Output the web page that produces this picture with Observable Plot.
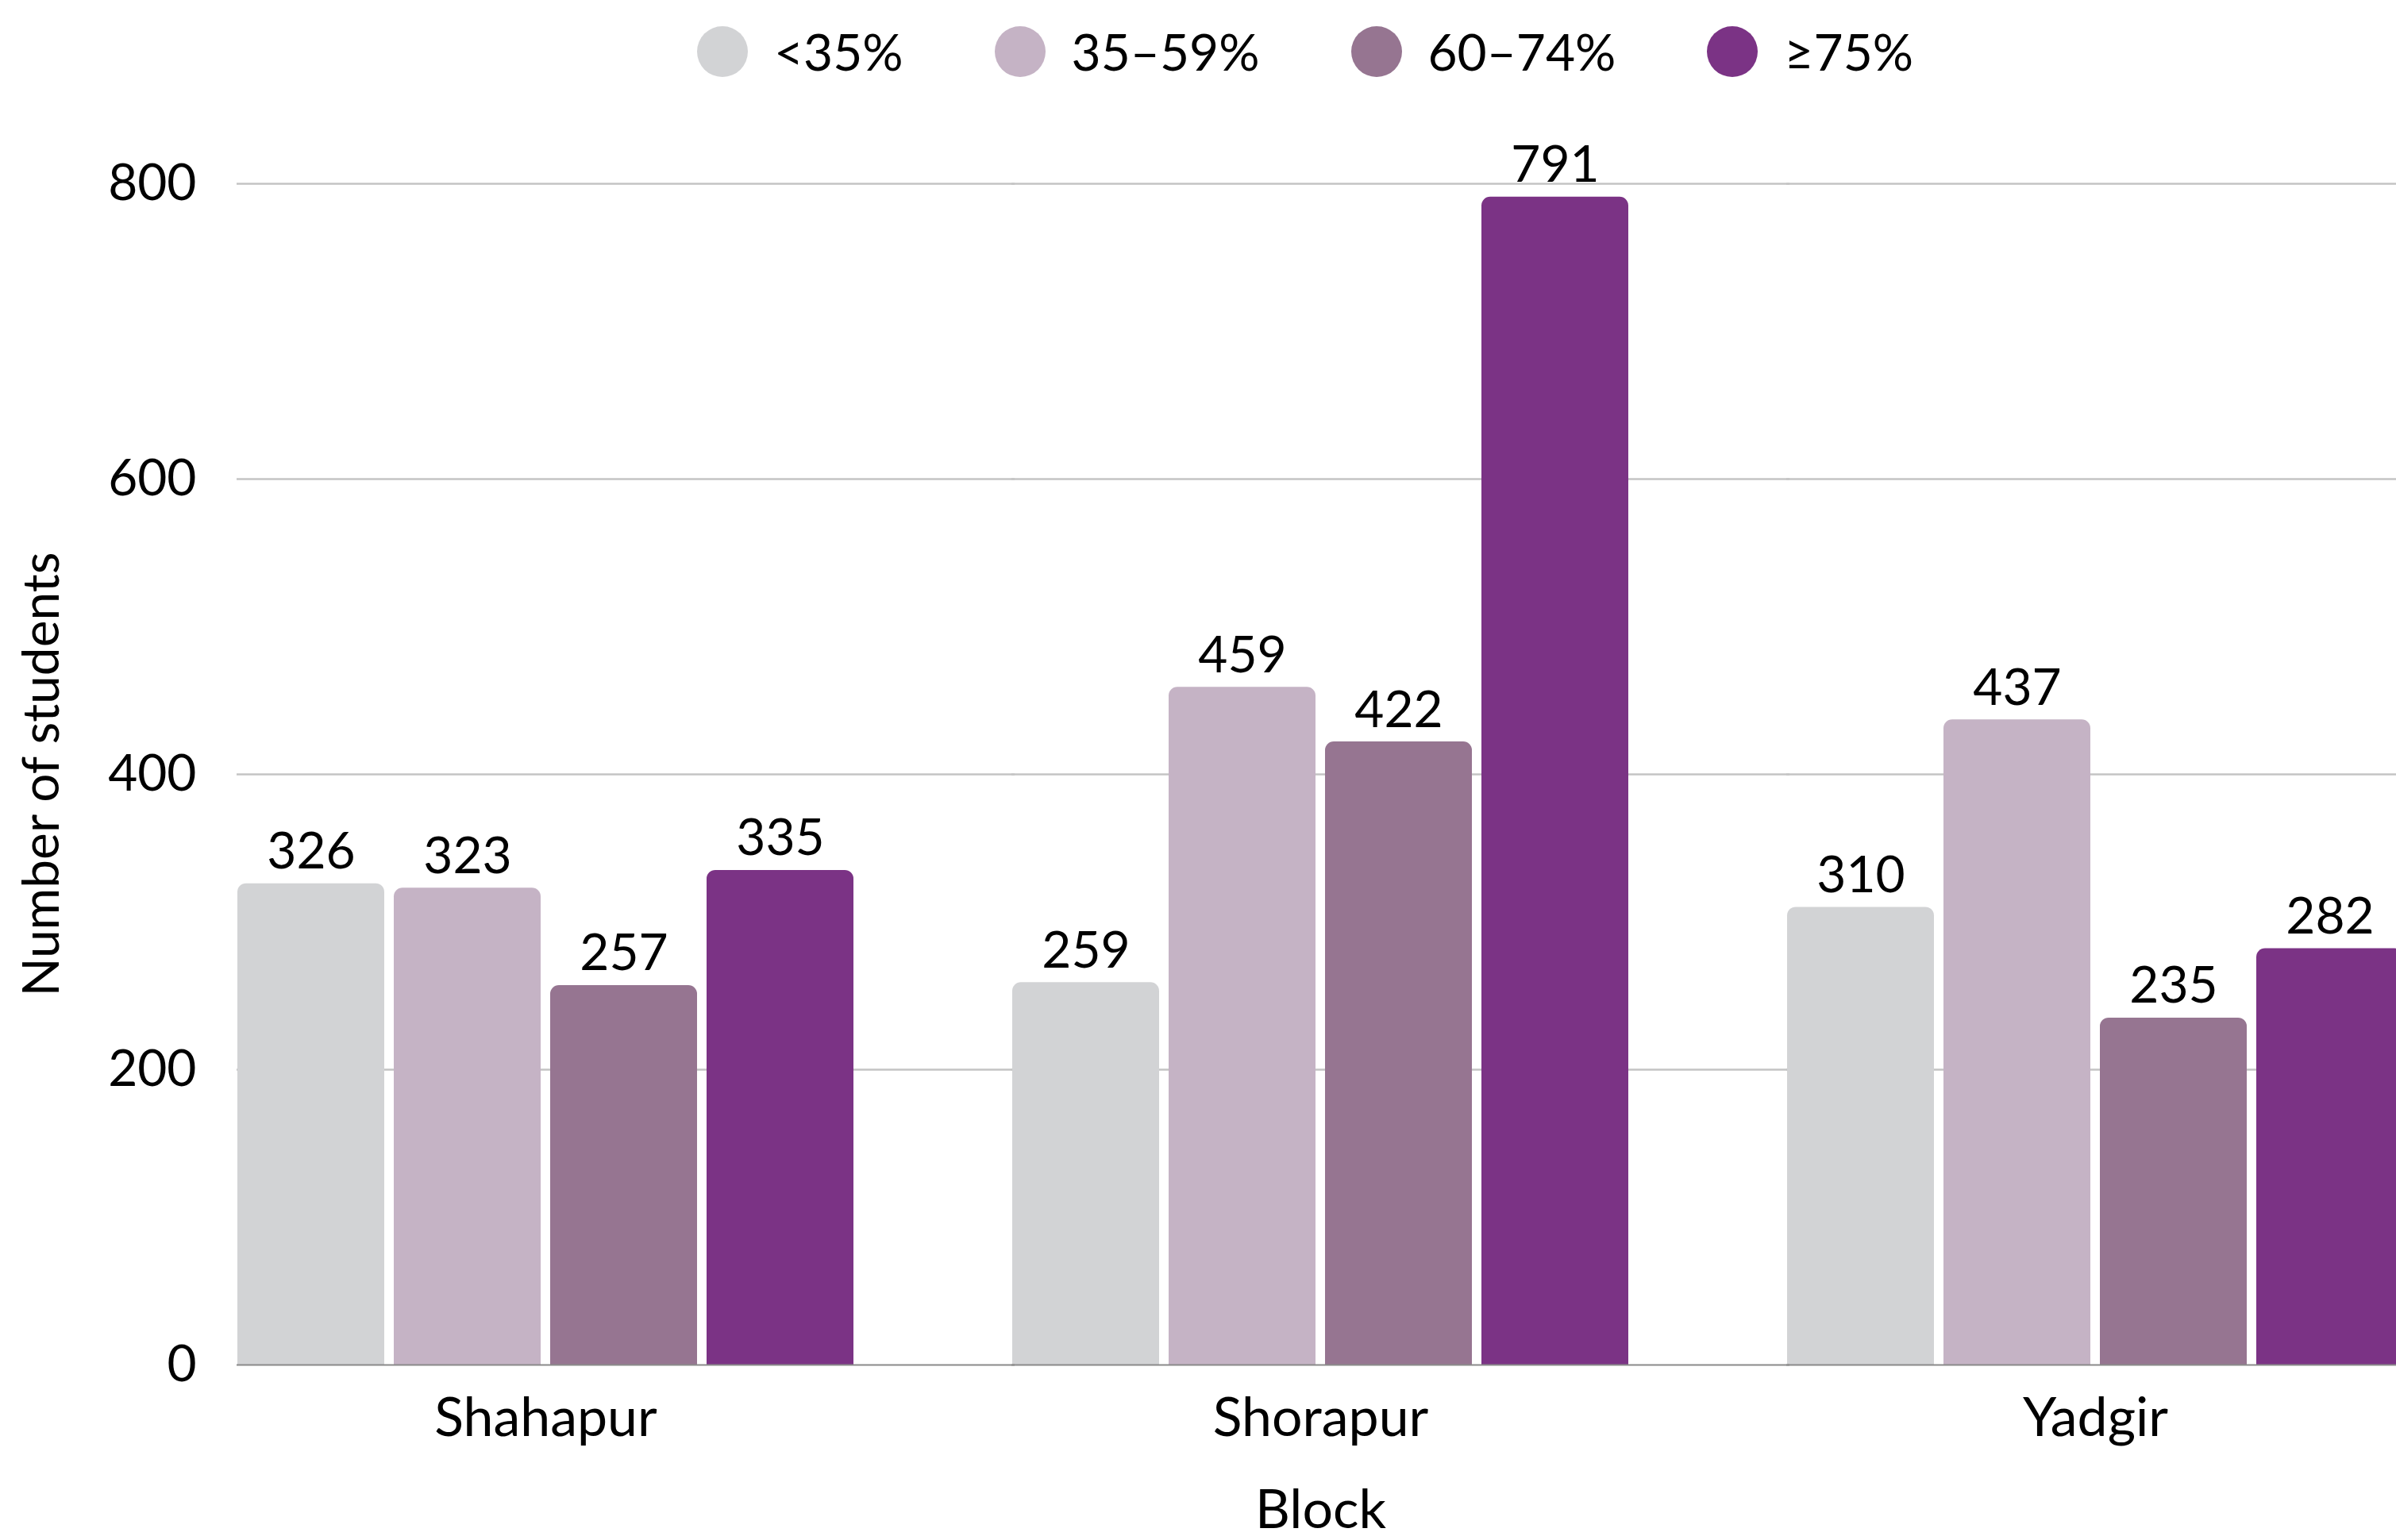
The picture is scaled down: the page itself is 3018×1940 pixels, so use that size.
<!DOCTYPE html>
<html>
<head>
<meta charset="utf-8">
<script src="https://cdn.jsdelivr.net/npm/d3@7"></script>
<script src="https://cdn.jsdelivr.net/npm/@observablehq/plot@0.6"></script>
<style>
  html, body { margin: 0; padding: 0; background: #fff; }
  body { width: 3018px; height: 1940px; overflow: hidden; font-family: Lato, sans-serif; }
  #legend { height: 130px; margin-left: 284px; width: 2720px; display: flex; align-items: center; justify-content: center; gap: 115px; }
  .item { display: flex; align-items: center; }
  .sw { width: 64px; height: 64px; border-radius: 50%; margin-right: 33px; }
  .lab { font-size: 64px; line-height: 1; color: #000; }
  #chart svg { display: block; overflow: hidden; }
</style>
</head>
<body>
<div id="legend"></div>
<div id="chart"></div>
<script>
const blocks = ["Shahapur", "Shorapur", "Yadgir"];
const categories = ["<35%", "35–59%", "60–74%", "≥75%"];
const colors = ["#d2d3d5", "#c5b3c5", "#967591", "#7b3385"];
const shahapur = [326, 323, 257, 335];
const shorapur = [259, 459, 422, 791];
const yadgir = [310, 437, 235, 282];
const yTicks = [0, 200, 400, 600, 800];

const series = [shahapur, shorapur, yadgir];
const data = blocks.flatMap((b, i) => series[i].map((v, j) => ({block: b, cat: categories[j], value: v})));

// legend
const legend = document.getElementById("legend");
categories.forEach((c, i) => {
  const it = document.createElement("div");
  it.className = "item";
  const sw = document.createElement("span");
  sw.className = "sw";
  sw.style.background = colors[i];
  const lab = document.createElement("span");
  lab.className = "lab";
  lab.textContent = c;
  it.appendChild(sw); it.appendChild(lab);
  legend.appendChild(it);
});

const chart = Plot.plot({
  width: 3018,
  height: 1810,
  marginTop: 101,
  marginBottom: 221,
  marginLeft: 298,
  marginRight: -10,
  style: {fontFamily: "Lato, sans-serif", fontSize: "64px", color: "#000", background: "#fff"},
  fx: {domain: blocks, paddingInner: 0.2029, paddingOuter: 0},
  x: {domain: categories, paddingInner: 0.06, paddingOuter: 0, axis: null},
  y: {domain: [0, 800], ticks: yTicks, tickSize: 0, tickPadding: 51, label: "Number of students", labelAnchor: "center", labelOffset: 270, labelArrow: "none"},
  color: {domain: categories, range: colors},
  marks: [
    Plot.ruleY(yTicks.slice(1), {stroke: "#c4c4c4", strokeWidth: 2.5, insetRight: -202}),
    Plot.barY(data, {fx: "block", x: "cat", y: "value", fill: "cat", ry1: 11}),
    Plot.ruleY([0], {stroke: "#8a8a8a", strokeWidth: 2, insetRight: -202}),
    Plot.text(data, {fx: "block", x: "cat", y: "value", text: d => String(d.value), dy: -19, lineAnchor: "bottom", fill: "#000", fontSize: 64}),
    Plot.axisFx({anchor: "bottom", tickSize: 0, tickPadding: 41, fontSize: 68, label: "Block", labelAnchor: "center", labelOffset: 205, labelArrow: "none"})
  ]
});
document.getElementById("chart").appendChild(chart);
</script>
</body>
</html>
